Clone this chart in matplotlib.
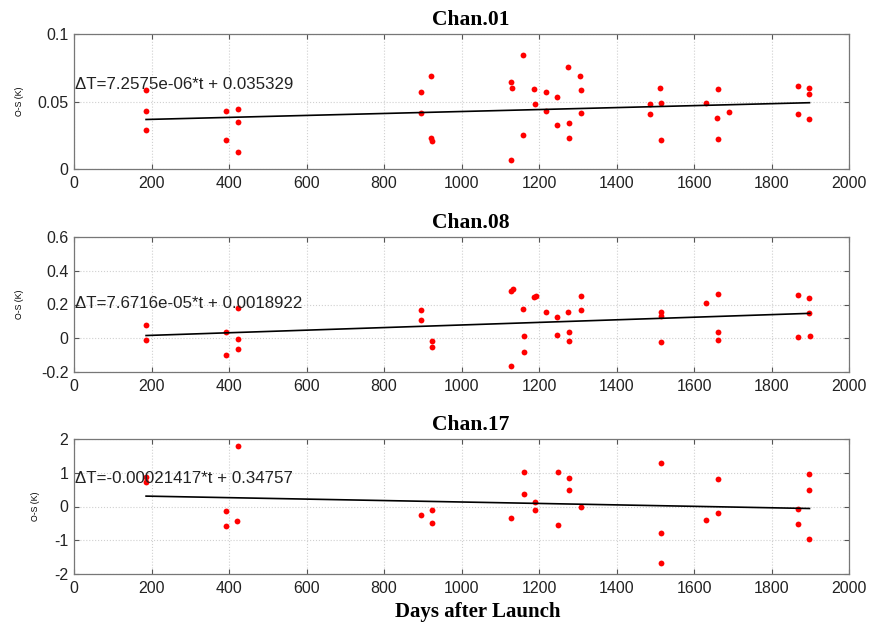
import matplotlib
matplotlib.use("Agg")
import matplotlib.pyplot as plt
import numpy as np

# ---------------- data ----------------
titles = ["Chan.01", "Chan.08", "Chan.17"]

days1 = [186, 186, 186, 392, 392, 422, 422, 422, 895, 895, 922, 922, 924,
         1129, 1131, 1129, 1158, 1159, 1188, 1190, 1218, 1218, 1247, 1247,
         1276, 1277, 1277, 1307, 1308, 1308, 1486, 1486, 1513, 1514, 1514,
         1632, 1661, 1660, 1661, 1690, 1868, 1868, 1897, 1898, 1898]
vals1 = [0.0582, 0.0433, 0.0289, 0.0428, 0.0216, 0.0443, 0.0351, 0.0124,
         0.0572, 0.0415, 0.0692, 0.0231, 0.0207,
         0.0644, 0.0597, 0.0067, 0.0843, 0.0249, 0.0595, 0.0478, 0.0570,
         0.0428, 0.0532, 0.0323, 0.0756, 0.0338, 0.0231, 0.0692, 0.0587,
         0.0415, 0.0480, 0.0408, 0.0597, 0.0487, 0.0216, 0.0490, 0.0595,
         0.0381, 0.0221, 0.0420, 0.0612, 0.0410, 0.0599, 0.0554, 0.0373]

days2 = [186, 186, 391, 391, 422, 422, 422, 895, 895, 924, 924,
         1129, 1133, 1129, 1158, 1160, 1160, 1188, 1192, 1218, 1247, 1247,
         1276, 1277, 1277, 1308, 1308, 1515, 1514, 1514, 1632, 1662, 1661,
         1662, 1868, 1868, 1898, 1898, 1899]
vals2 = [0.077, -0.009, 0.035, -0.100, 0.178, -0.003, -0.065, 0.166, 0.110,
         -0.019, -0.051,
         0.280, 0.292, -0.164, 0.172, 0.013, -0.079, 0.245, 0.250, 0.158,
         0.126, 0.017, 0.156, 0.035, -0.019, 0.248, 0.170, 0.156, 0.134,
         -0.023, 0.206, 0.260, 0.035, -0.013, 0.258, 0.005, 0.238, 0.148,
         0.013]

days3 = [186, 187, 392, 392, 422, 421, 895, 925, 925,
         1129, 1160, 1160, 1190, 1189, 1248, 1248, 1278, 1278, 1308, 1514,
         1514, 1514, 1632, 1661, 1661, 1869, 1869, 1898, 1898, 1898]
vals3 = [0.726, 0.876, -0.119, -0.588, 1.79, -0.418, -0.239, -0.090, -0.478,
         -0.328, 1.015, 0.368, 0.119, -0.090, 1.025, -0.537, 0.846, 0.478,
         -0.010, 1.284, -0.776, -1.672, -0.388, 0.816, -0.199, -0.080,
         -0.507, 0.955, 0.498, -0.975]

slopes = [7.2575e-06, 7.6716e-05, -0.00021417]
intercepts = [0.035329, 0.0018922, 0.34757]
eq_labels = ["\u0394T=7.2575e-06*t + 0.035329",
             "\u0394T=7.6716e-05*t + 0.0018922",
             "\u0394T=-0.00021417*t + 0.34757"]

ylims = [(0, 0.1), (-0.2, 0.6), (-2, 2)]
yticks = [[0, 0.05, 0.1], [-0.2, 0, 0.2, 0.4, 0.6], [-2, -1, 0, 1, 2]]
yticklabels = [["0", "0.05", "0.1"], ["-0.2", "0", "0.2", "0.4", "0.6"],
               ["-2", "-1", "0", "1", "2"]]
xticks = [0, 200, 400, 600, 800, 1000, 1200, 1400, 1600, 1800, 2000]
eq_y = [0.0627, 0.206, 0.84]

days_all = [days1, days2, days3]
vals_all = [vals1, vals2, vals3]

# ---------------- plot ----------------
fig = plt.figure(figsize=(8.76, 6.26), dpi=100)
left, width = 74 / 876, (849 - 74) / 876
tops = [34, 237, 439]
h_px = 135
ylab_x = [-0.0645, -0.0645, -0.044]

sans = ["Liberation Sans", "DejaVu Sans"]
serif = ["Liberation Serif", "DejaVu Serif"]

for i in range(3):
    bottom = 1 - (tops[i] + h_px) / 626
    ax = fig.add_axes([left, bottom, width, h_px / 626])
    d = np.array(days_all[i])
    v = np.array(vals_all[i])
    ax.plot(d, v, 'o', color='#ff0000', ms=4.2, mec='none', zorder=3)
    t = np.array([d.min(), d.max()])
    ax.plot(t, slopes[i] * t + intercepts[i], '-', color='black', lw=1.2, zorder=4)
    ax.set_xlim(0, 2000)
    ax.set_ylim(*ylims[i])
    ax.set_xticks(xticks)
    ax.set_xticklabels([str(x) for x in xticks], family=sans, fontsize=11.5)
    ax.set_yticks(yticks[i])
    ax.set_yticklabels(yticklabels[i], family=sans, fontsize=11.5)
    ax.grid(True, color='#d0d0d0', ls=':', lw=0.8)
    ax.tick_params(direction='in', top=True, right=True, length=3.5,
                   color='#555555', labelcolor='#222222')
    ax.tick_params(axis='x', pad=5)
    ax.tick_params(axis='y', pad=4)
    for s in ax.spines.values():
        s.set_color('#777777')
        s.set_linewidth(0.9)
    ax.set_ylabel("O-S (K)", family=sans, fontsize=6.3)
    ax.yaxis.set_label_coords(ylab_x[i], 0.5)
    ax.text(3, eq_y[i], eq_labels[i], family=sans, fontsize=12.2,
            va='center', ha='left', color='#222222', zorder=5)
    ax.set_title(titles[i], family=serif, fontweight='bold', fontsize=15.5,
                 x=0.512, pad=6.5)
    if i == 2:
        ax.set_xlabel("Days after Launch", family=serif, fontweight='bold',
                      fontsize=15)
        ax.xaxis.set_label_coords(0.521, -0.21)

fig.savefig("out.png", dpi=100)
